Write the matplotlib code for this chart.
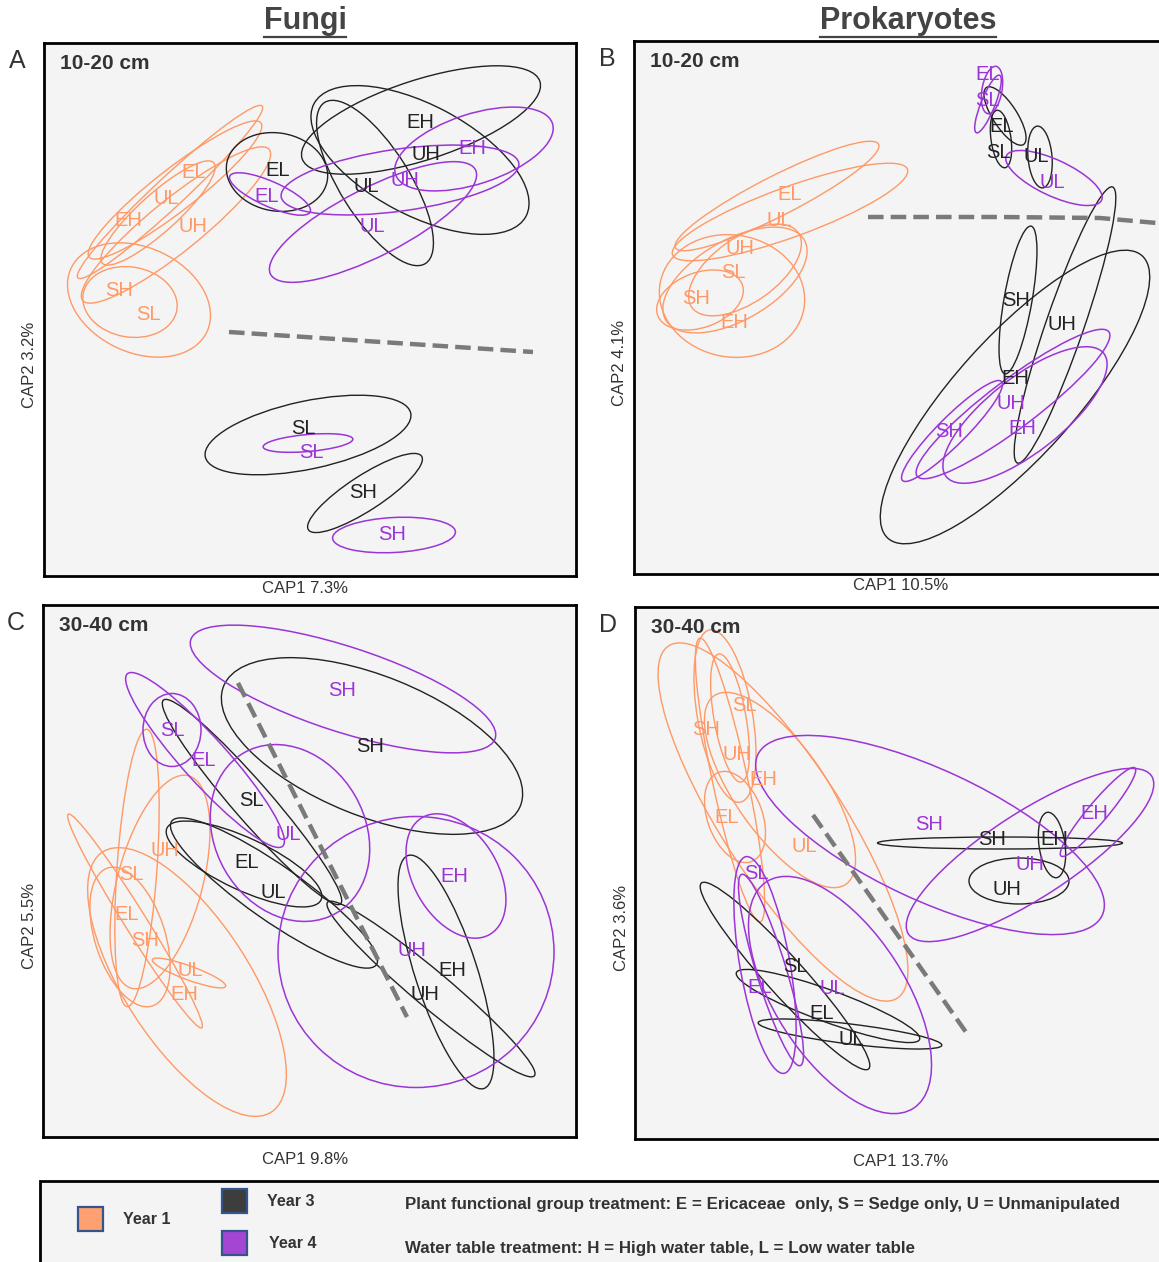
import matplotlib
matplotlib.use("Agg")
import matplotlib.pyplot as plt
from matplotlib.patches import Ellipse, Rectangle
from matplotlib.lines import Line2D

plt.rcParams['font.family'] = ['Liberation Sans', 'DejaVu Sans']

# colours per sampling year
year_colors = {1: '#ff9966', 3: '#222222', 4: '#9b35d6'}
year_lw = {1: 1.0, 3: 1.0, 4: 1.1}

# --- panel A: fungi 10-20 cm (ordination drawn in picture units) ---
A_ell_year = [1, 1, 1, 1, 1, 1, 3, 3, 3, 3, 3, 3, 4, 4, 4, 4, 4, 4]
A_ell_x = [158, 170, 175, 176, 130, 139, 277, 421, 420, 375, 308, 365, 270, 474, 400, 373, 308, 394]
A_ell_y = [213, 192, 190, 225, 302, 300, 172, 120, 160, 183, 435, 493, 194, 149, 180, 222, 443, 535]
A_ell_w = [150, 252, 218, 240, 95, 150, 102, 250, 240, 190, 210, 135, 88, 165, 240, 230, 90, 123]
A_ell_h = [38, 30, 42, 52, 70, 105, 78, 80, 110, 70, 68, 35, 25, 70, 62, 68, 17, 35]
A_ell_a = [42, 43, 38, 39, -10, -25, -10, 18, -28, -58, 12, 33, -24, 18, 8, 27, 5, 3]
A_lab = ['EL', 'UL', 'EH', 'UH', 'SH', 'SL', 'EL', 'EH', 'UH', 'UL', 'SL', 'SH',
         'EL', 'EH', 'UH', 'UL', 'SL', 'SH']
A_lab_year = [1, 1, 1, 1, 1, 1, 3, 3, 3, 3, 3, 3, 4, 4, 4, 4, 4, 4]
A_lab_x = [194, 166, 128, 193, 119, 148, 278, 420, 426, 366, 303, 363, 267, 472, 405, 372, 311, 392]
A_lab_y = [173, 199, 221, 227, 290, 315, 171, 123, 155, 186, 428, 493, 196, 149, 181, 226, 453, 535]
A_dash_x = [229, 533]
A_dash_y = [332, 352]

# --- panel B: prokaryotes 10-20 cm ---
B_ell_year = [1, 1, 1, 1, 1, 1, 3, 3, 3, 3, 3, 3, 4, 4, 4, 4, 4, 4]
B_ell_x = [777, 790, 745, 735, 700, 732, 1005, 1001, 1040, 1018, 1065, 1015, 992, 988, 1054, 952, 1013, 1025]
B_ell_y = [196, 212, 270, 280, 300, 296, 116, 139, 157, 300, 325, 397, 90, 104, 178, 431, 404, 415]
B_ell_w = [228, 250, 130, 160, 90, 146, 68, 58, 62, 150, 292, 380, 48, 62, 105, 140, 240, 200]
B_ell_h = [40, 50, 65, 80, 55, 122, 24, 20, 24, 28, 38, 120, 20, 14, 36, 28, 48, 75]
B_ell_a = [27, 20, 35, 30, 20, -10, -57, -82, -85, 80, 71, 48, 80, 68, -25, 45, 37, 38]
B_lab = ['EL', 'UL', 'UH', 'SL', 'SH', 'EH', 'EL', 'SL', 'UL', 'SH', 'UH', 'EH',
         'EL', 'SL', 'UL', 'SH', 'UH', 'EH']
B_lab_year = [1, 1, 1, 1, 1, 1, 3, 3, 3, 3, 3, 3, 4, 4, 4, 4, 4, 4]
B_lab_x = [790, 779, 740, 733, 696, 734, 1002, 998, 1036, 1016, 1062, 1015, 988, 987, 1052, 949, 1011, 1022]
B_lab_y = [195, 220, 248, 273, 298, 323, 127, 152, 157, 300, 325, 379, 75, 101, 182, 432, 404, 429]
B_dash_x = [868, 1000, 1100, 1157]
B_dash_y = [217, 217, 218, 223]

# --- panel C: fungi 30-40 cm ---
C_ell_year = [1, 1, 1, 1, 1, 1, 3, 3, 3, 3, 3, 3, 4, 4, 4, 4, 4, 4]
C_ell_x = [160, 137, 130, 135, 189, 187, 372, 252, 244, 274, 446, 431, 343, 172, 205, 290, 456, 416]
C_ell_y = [882, 868, 937, 921, 973, 982, 746, 802, 864, 893, 972, 989, 689, 730, 760, 833, 876, 952]
C_ell_w = [220, 278, 145, 252, 78, 310, 320, 270, 170, 250, 245, 270, 320, 58, 232, 185, 135, 276]
C_ell_h = [85, 40, 70, 22, 14, 125, 140, 38, 52, 55, 62, 36, 85, 73, 45, 150, 85, 271]
C_ell_a = [75, 86, -72, -58, -20, -57, -22, -49, -25, -35, -72, -40, -18, 0, -48, -60, -60, 0]
C_lab = ['UH', 'SL', 'EL', 'SH', 'UL', 'EH', 'SH', 'SL', 'EL', 'UL', 'EH', 'UH',
         'SH', 'SL', 'EL', 'UL', 'EH', 'UH']
C_lab_year = [1, 1, 1, 1, 1, 1, 3, 3, 3, 3, 3, 3, 4, 4, 4, 4, 4, 4]
C_lab_x = [165, 131, 127, 145, 190, 184, 370, 251, 247, 273, 452, 425, 342, 172, 204, 288, 454, 412]
C_lab_y = [850, 875, 915, 941, 970, 995, 747, 801, 862, 893, 970, 995, 690, 730, 761, 835, 876, 950]
C_dash_x = [238, 407]
C_dash_y = [683, 1017]

# --- panel D: prokaryotes 30-40 cm ---
D_ell_year = [1, 1, 1, 1, 1, 1, 3, 3, 3, 3, 3, 3, 4, 4, 4, 4, 4, 4]
D_ell_x = [783, 780, 725, 730, 735, 730, 1000, 1052, 1019, 785, 828, 850, 930, 1098, 1030, 765, 771, 840]
D_ell_y = [822, 790, 716, 718, 817, 780, 843, 845, 881, 976, 1006, 1034, 835, 812, 855, 965, 970, 995]
D_ell_w = [420, 230, 175, 130, 95, 290, 245, 66, 100, 250, 195, 185, 380, 115, 290, 220, 200, 270]
D_ell_h = [120, 90, 55, 32, 55, 35, 12, 26, 46, 38, 32, 20, 130, 20, 85, 50, 30, 130]
D_ell_a = [-57, -55, -80, -80, -70, -78, 0, -82, 0, -48, -20, -7, -25, 50, 33, -80, -73, -57]
D_lab = ['SL', 'SH', 'UH', 'EH', 'EL', 'UL', 'SH', 'EH', 'UH', 'SL', 'EL', 'UL',
         'SH', 'EH', 'UH', 'SL', 'EL', 'UL']
D_lab_year = [1, 1, 1, 1, 1, 1, 3, 3, 3, 3, 3, 3, 4, 4, 4, 4, 4, 4]
D_lab_x = [744, 706, 737, 763, 727, 804, 992, 1054, 1007, 795, 822, 851, 929, 1094, 1030, 756, 760, 832]
D_lab_y = [705, 729, 754, 779, 817, 846, 839, 839, 889, 966, 1013, 1039, 824, 813, 864, 873, 987, 988]
D_dash_x = [813, 968]
D_dash_y = [815, 1035]

panel_letters = ['A', 'B', 'C', 'D']
depth_labels = ['10-20 cm', '10-20 cm', '30-40 cm', '30-40 cm']
cap1_labels = ['CAP1 7.3%', 'CAP1 10.5%', 'CAP1 9.8%', 'CAP1 13.7%']
cap2_labels = ['CAP2 3.2%', 'CAP2 4.1%', 'CAP2 5.5%', 'CAP2 3.6%']

legend_years = ['Year 1', 'Year 3', 'Year 4']
legend_fill = ['#ffa070', '#3d3d3d', '#a545d4']
legend_notes = ['Plant functional group treatment: E = Ericaceae  only, S = Sedge only, U = Unmanipulated',
                'Water table treatment: H = High water table, L = Low water table']

FW, FH = 1159, 1262
fig = plt.figure(figsize=(FW / 100, FH / 100), dpi=100)


def fx(x):
    return x / FW


def fy(y):
    return 1 - y / FH


# panel frames in picture pixels: left, top, right, bottom
boxes = [(44, 43, 576, 576), (634, 41, 1163, 574), (43, 605, 576, 1137), (635, 607, 1163, 1139)]
panels = [
    (A_ell_year, A_ell_x, A_ell_y, A_ell_w, A_ell_h, A_ell_a, A_lab, A_lab_year, A_lab_x, A_lab_y, A_dash_x, A_dash_y),
    (B_ell_year, B_ell_x, B_ell_y, B_ell_w, B_ell_h, B_ell_a, B_lab, B_lab_year, B_lab_x, B_lab_y, B_dash_x, B_dash_y),
    (C_ell_year, C_ell_x, C_ell_y, C_ell_w, C_ell_h, C_ell_a, C_lab, C_lab_year, C_lab_x, C_lab_y, C_dash_x, C_dash_y),
    (D_ell_year, D_ell_x, D_ell_y, D_ell_w, D_ell_h, D_ell_a, D_lab, D_lab_year, D_lab_x, D_lab_y, D_dash_x, D_dash_y),
]

for i, (box, p) in enumerate(zip(boxes, panels)):
    l, t, r, b = box
    ax = fig.add_axes([fx(l), fy(b), (r - l) / FW, (b - t) / FH])
    ax.set_xlim(l, r)
    ax.set_ylim(b, t)  # picture orientation
    ax.set_facecolor('#f4f4f4')
    ax.set_xticks([])
    ax.set_yticks([])
    for s in ax.spines.values():
        s.set_linewidth(2.0)
        s.set_color('black')
    ey, ex, eyy, ew, eh, ea, labs, ly, lx, lyy, dx, dy = p
    for yr, x, y, w, h, a in zip(ey, ex, eyy, ew, eh, ea):
        ax.add_patch(Ellipse((x, y), w, h, angle=-a, fill=False,
                             ec=year_colors[yr], lw=year_lw[yr]))
    ax.plot(dx, dy, ls=(0, (3.5, 1.6)), color='#7a7a7a', lw=3.2)
    for lab, yr, x, y in zip(labs, ly, lx, lyy):
        ax.text(x, y, lab, color=year_colors[yr], fontsize=14.5, ha='center', va='center')
    ax.text(0.03, 0.962, depth_labels[i], transform=ax.transAxes, fontsize=15,
            fontweight='bold', color='#333333', ha='left', va='center')

    # panel letter, axis labels
    fig.text(fx(l - 27), fy(t + 18), panel_letters[i], fontsize=18, color='#333333',
             ha='center', va='center')
    fig.text(fx(305 if i % 2 == 0 else 901), fy(b + 12 if i < 2 else b + 23), cap1_labels[i],
             fontsize=12, color='#333333', ha='center', va='center')
    fig.text(fx(l - 14), fy((t + b) / 2 + 55), cap2_labels[i], fontsize=12,
             color='#333333', ha='center', va='center', rotation=90)

# column titles, underlined
titles = [('Fungi', 305), ('Prokaryotes', 908)]
fig.canvas.draw()
rend = fig.canvas.get_renderer()
for name, xc in titles:
    tt = fig.text(fx(xc), fy(21), name, fontsize=22, fontweight='bold', color='#444444',
                  ha='center', va='center')
    bb = tt.get_window_extent(rend)
    fig.add_artist(Line2D([bb.x0 / FW, bb.x1 / FW], [fy(37), fy(37)], color='#444444', lw=1.6))

# legend box
fig.add_artist(Rectangle((fx(40), fy(1275)), (1180 - 40) / FW, (1275 - 1181) / FH,
                         transform=fig.transFigure, fc='#f4f4f4', ec='black', lw=2))
sq_x = [78, 222, 222]
sq_y = [1207, 1189, 1231]
txt_x = [123, 267, 269]
for lab, fc, sx, sy, tx in zip(legend_years, legend_fill, sq_x, sq_y, txt_x):
    fig.add_artist(Rectangle((fx(sx), fy(sy + 24)), 25 / FW, 24 / FH, transform=fig.transFigure,
                             fc=fc, ec='#34558b', lw=1.6))
    fig.text(fx(tx), fy(sy + 12), lab, fontsize=11.5, fontweight='bold', color='#333333',
             ha='left', va='center')
for note, ny in zip(legend_notes, [1205, 1248]):
    fig.text(fx(405), fy(ny), note, fontsize=12.2, fontweight='bold', color='#333333',
             ha='left', va='center')

fig.savefig('out.png', dpi=100, facecolor='white')
